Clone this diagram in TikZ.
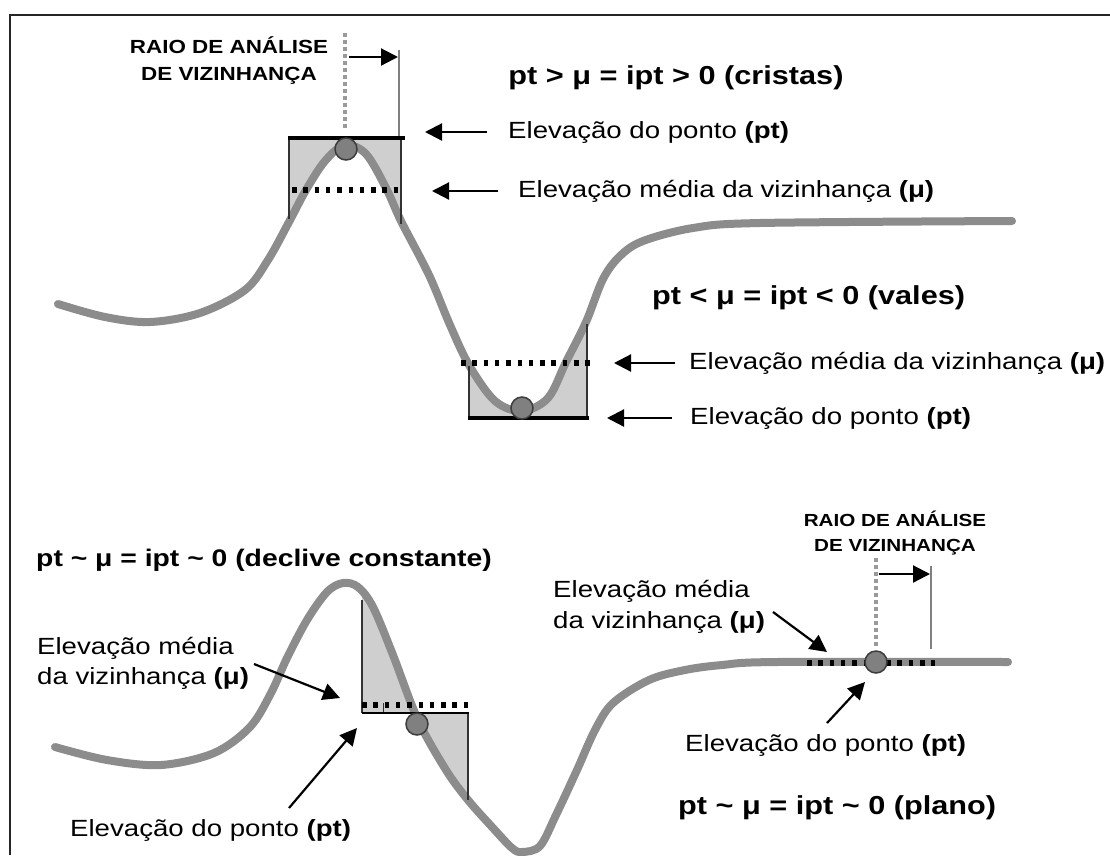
\documentclass[tikz,border=0pt]{standalone}
\usepackage{fontspec}
\setmainfont{Liberation Sans}[FakeStretch=1.18]
\usetikzlibrary{arrows.meta}
\definecolor{curvegray}{HTML}{8C8C8C}
\definecolor{boxfill}{HTML}{CFCFCF}
\definecolor{dotfill}{HTML}{808080}
\definecolor{dotdraw}{HTML}{3C3C3C}
\definecolor{raddashc}{HTML}{9A9A9A}
\definecolor{radlinec}{HTML}{808080}
\newcommand\topcurve{plot[smooth,tension=.55] coordinates {(58,304) (105,317) (150,322) (200,313) (245,290) (268,260) (289,222) (306,190) (325,161) (345,145) (366,154) (386,188) (401,221) (429,275) (450,325) (469,365) (495,401) (522,411) (548,398) (566,362) (586,322) (603,279) (620,256) (643,241) (693,228) (760,223) (1012,221)}}
\newcommand\lowcurve{plot[smooth,tension=.55] coordinates {(55,747) (107,760) (161,765) (214,753) (250,727) (271,693) (287,658) (307,620) (327,592) (343,583) (358,587) (373,607) (393,655) (418,720) (446,770) (468,800) (493,828) (512,848) (522,852) (540,846) (556,815) (577,770) (595,730) (613,703) (649,680) (685,670) (722,665) (776,662) (1008,662)}}
\begin{document}
\begin{tikzpicture}[x=1pt,y=-1pt,
  terrain/.style={draw=curvegray,line width=8pt,line cap=round},
  greyzone/.style={fill=boxfill,even odd rule},
  ptline/.style={line width=4pt,black},
  thinpt/.style={line width=2pt,black},
  muline/.style={line width=6pt,black,dash pattern=on 4.5pt off 6.8pt},
  boxedge/.style={line width=1.2pt,black!80},
  dotnode/.style={circle,fill=dotfill,draw=dotdraw,line width=1.5pt,minimum size=22pt,inner sep=0pt},
  raddash/.style={draw=raddashc,line width=3.5pt,dash pattern=on 4pt off 3pt},
  radline/.style={draw=radlinec,line width=1.5pt},
  arr/.style={-{Triangle[length=17pt,width=17pt]},line width=2.2pt,black},
  lbl/.style={font=\fontsize{23.4}{28}\selectfont,inner sep=0pt},
  formula/.style={font=\fontsize{26}{30}\selectfont\bfseries,inner sep=0pt},
  formulasm/.style={font=\fontsize{24}{28}\selectfont\bfseries,inner sep=0pt},
  raiotxt/.style={font=\fontsize{19}{27}\selectfont\bfseries,inner sep=0pt,align=center},
  raiotxtb/.style={font=\fontsize{17.5}{25}\selectfont\bfseries,inner sep=0pt,align=center},
]
\useasboundingbox (0,0) rectangle (1110,855);
\fill[white] (0,0) rectangle (1110,855);
% frame
\draw[line width=2.5pt,black!85] (10,855) -- (10,15) -- (1110,15);

% ---------- grey zones (between terrain and point elevation) ----------
\begin{scope}
  \clip (289,100) rectangle (401,600);
  \fill[greyzone] \topcurve -- (1012,900) -- (58,900) -- cycle (270,138) rectangle (420,900);
\end{scope}
\begin{scope}
  \clip (469,250) rectangle (587,600);
  \fill[greyzone] \topcurve -- (1012,900) -- (58,900) -- cycle (450,418) rectangle (600,900);
\end{scope}
\begin{scope}
  \clip (362,560) rectangle (468,855);
  \fill[greyzone] \lowcurve -- (1008,1000) -- (55,1000) -- cycle (340,713) rectangle (490,1000);
\end{scope}

% ---------- terrain curves ----------
\draw[terrain] \topcurve;
\draw[terrain] \lowcurve;

% ---------- crest (top) ----------
\coordinate (c1l) at (289,138); \coordinate (c1r) at (401,138);
\coordinate (c1lb) at (289,219); \coordinate (c1rb) at (401,224);
\draw[boxedge] (c1l) -- (c1lb);
\draw[boxedge] (c1r) -- (c1rb);
\coordinate (p1a) at (288,138); \coordinate (p1b) at (405,138);
\draw[ptline] (p1a) -- (p1b);
\coordinate (m1a) at (292,190); \coordinate (m1b) at (398,190);
\draw[muline] (m1a) -- (m1b);
\coordinate (r1top) at (345,33); \coordinate (r1bot) at (345,130);
\draw[raddash] (r1top) -- (r1bot);
\coordinate (r2top) at (399,50); \coordinate (r2bot) at (399,136);
\draw[radline] (r2top) -- (r2bot);
\coordinate (ra1) at (349,57); \coordinate (ra2) at (398,57);
\draw[arr] (ra1) -- (ra2);
\node[dotnode] (pt1) at (346,149) {};
\node[raiotxt] (raio1) at (229,61) {RAIO DE ANÁLISE\\DE VIZINHANÇA};
\node[formula] (cristas) at (676,78) {pt > μ = ipt > 0 (cristas)};
\node[lbl,anchor=west] (t1) at (508,132) {Elevação do ponto \textbf{(pt)}};
\coordinate (a1t) at (487,132); \coordinate (a1h) at (425,132);
\draw[arr] (a1t) -- (a1h);
\node[lbl,anchor=west] (t2) at (518,191) {Elevação média da vizinhança \textbf{(μ)}};
\coordinate (a2t) at (498,191); \coordinate (a2h) at (432,191);
\draw[arr] (a2t) -- (a2h);

% ---------- valley ----------
\coordinate (v1l) at (469,366); \coordinate (v1lb) at (469,418);
\coordinate (v1r) at (587,324); \coordinate (v1rb) at (587,418);
\draw[boxedge] (v1l) -- (v1lb);
\draw[boxedge] (v1r) -- (v1rb);
\coordinate (p2a) at (468,418); \coordinate (p2b) at (589,418);
\draw[ptline] (p2a) -- (p2b);
\coordinate (m2a) at (461,363); \coordinate (m2b) at (590,363);
\draw[muline] (m2a) -- (m2b);
\node[dotnode] (pt2) at (522,408) {};
\node[formula,anchor=west] (vales) at (652,298) {pt < μ = ipt < 0 (vales)};
\node[lbl,anchor=west] (t3) at (689,363) {Elevação média da vizinhança \textbf{(μ)}};
\coordinate (a3t) at (675,363); \coordinate (a3h) at (614,363);
\draw[arr] (a3t) -- (a3h);
\node[lbl,anchor=west] (t4) at (690,418) {Elevação do ponto \textbf{(pt)}};
\coordinate (a4t) at (672,418); \coordinate (a4h) at (607,418);
\draw[arr] (a4t) -- (a4h);

% ---------- constant slope ----------
\node[formulasm,anchor=west] (declive) at (36,560) {pt \textasciitilde{} μ = ipt \textasciitilde{} 0 (declive constante)};
\coordinate (s1l) at (362,600); \coordinate (s1lb) at (362,713);
\coordinate (s1r) at (468,713); \coordinate (s1rb) at (468,800);
\draw[boxedge] (s1l) -- (s1lb);
\draw[boxedge] (s1r) -- (s1rb);
\coordinate (tk1) at (383,703); \coordinate (tk2) at (383,713);
\draw[line width=1pt,black!80] (tk1) -- (tk2);
\coordinate (p3a) at (362,713); \coordinate (p3b) at (469,713);
\draw[thinpt] (p3a) -- (p3b);
\coordinate (m3a) at (362,705); \coordinate (m3b) at (471,705);
\draw[muline] (m3a) -- (m3b);
\node[dotnode] (pt3) at (417,724) {};
\node[lbl,align=left,anchor=north west,font=\fontsize{23.4}{30}\selectfont] (t5) at (37,637) {Elevação média\\da vizinhança \textbf{(μ)}};
\coordinate (a5t) at (254,664); \coordinate (a5h) at (340,698);
\draw[arr] (a5t) -- (a5h);
\node[lbl,anchor=west] (t6) at (70,830) {Elevação do ponto \textbf{(pt)}};
\coordinate (a6t) at (289,808); \coordinate (a6h) at (357,728);
\draw[arr] (a6t) -- (a6h);

% ---------- plane ----------
\coordinate (m4a) at (807,663); \coordinate (m4b) at (935,663);
\draw[muline] (m4a) -- (m4b);
\coordinate (r3top) at (876,558); \coordinate (r3bot) at (876,648);
\draw[raddash] (r3top) -- (r3bot);
\coordinate (r4top) at (931,566); \coordinate (r4bot) at (931,649);
\draw[radline] (r4top) -- (r4bot);
\coordinate (rb1) at (879,574); \coordinate (rb2) at (930,574);
\draw[arr] (rb1) -- (rb2);
\node[dotnode] (pt4) at (876,662) {};
\node[raiotxtb] (raio2) at (895,533) {RAIO DE ANÁLISE\\DE VIZINHANÇA};
\node[lbl,align=left,anchor=north west,font=\fontsize{23.4}{31}\selectfont] (t7) at (553,580) {Elevação média\\da vizinhança \textbf{(μ)}};
\coordinate (a7t) at (773,612); \coordinate (a7h) at (827,652);
\draw[arr] (a7t) -- (a7h);
\node[lbl,anchor=west] (t8) at (685,745) {Elevação do ponto \textbf{(pt)}};
\coordinate (a8t) at (827,723); \coordinate (a8h) at (865,682);
\draw[arr] (a8t) -- (a8h);
\node[formula,anchor=west] (plano) at (678,808) {pt \textasciitilde{} μ = ipt \textasciitilde{} 0 (plano)};
\end{tikzpicture}
\end{document}
